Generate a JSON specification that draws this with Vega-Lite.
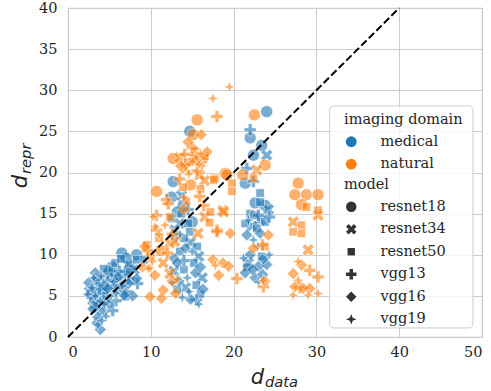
{
  "$schema": "https://vega.github.io/schema/vega-lite/v6.json",
  "width": 414,
  "height": 329,
  "autosize": {"type": "none"},
  "padding": {"left": 68, "top": 8, "right": 9, "bottom": 54},
  "background": "white",
  "datasets": {
    "pts": [
      {"x":6.5,"y":10.2,"domain":"medical","model":"resnet18"},{"x":8.3,"y":10.0,"domain":"medical","model":"resnet18"},{"x":4.9,"y":7.7,"domain":"medical","model":"resnet18"},{"x":5.3,"y":8.5,"domain":"medical","model":"resnet18"},{"x":3.7,"y":7.0,"domain":"medical","model":"resnet18"},{"x":7.5,"y":8.4,"domain":"medical","model":"resnet18"},{"x":4.2,"y":5.2,"domain":"medical","model":"resnet18"},{"x":6.0,"y":6.5,"domain":"medical","model":"resnet18"},{"x":5.0,"y":8.0,"domain":"medical","model":"resnet18"},{"x":7.0,"y":9.6,"domain":"medical","model":"resnet18"},
      {"x":7.3,"y":8.8,"domain":"medical","model":"resnet34"},{"x":3.5,"y":6.8,"domain":"medical","model":"resnet34"},{"x":4.5,"y":5.5,"domain":"medical","model":"resnet34"},{"x":5.6,"y":7.2,"domain":"medical","model":"resnet34"},{"x":3.0,"y":4.5,"domain":"medical","model":"resnet34"},{"x":6.4,"y":5.8,"domain":"medical","model":"resnet34"},{"x":8.0,"y":8.2,"domain":"medical","model":"resnet34"},{"x":4.0,"y":3.8,"domain":"medical","model":"resnet34"},{"x":6.8,"y":7.5,"domain":"medical","model":"resnet34"},{"x":2.6,"y":5.5,"domain":"medical","model":"resnet34"},
      {"x":5.7,"y":9.0,"domain":"medical","model":"resnet50"},{"x":8.3,"y":9.4,"domain":"medical","model":"resnet50"},{"x":6.9,"y":4.9,"domain":"medical","model":"resnet50"},{"x":3.8,"y":6.2,"domain":"medical","model":"resnet50"},{"x":4.6,"y":4.6,"domain":"medical","model":"resnet50"},{"x":5.5,"y":6.0,"domain":"medical","model":"resnet50"},{"x":7.6,"y":6.9,"domain":"medical","model":"resnet50"},{"x":3.2,"y":5.2,"domain":"medical","model":"resnet50"},{"x":9.2,"y":9.4,"domain":"medical","model":"resnet50"},{"x":4.3,"y":8.3,"domain":"medical","model":"resnet50"},{"x":6.4,"y":9.5,"domain":"medical","model":"resnet50"},{"x":7.2,"y":7.9,"domain":"medical","model":"resnet50"},
      {"x":7.0,"y":5.5,"domain":"medical","model":"vgg13"},{"x":4.8,"y":6.8,"domain":"medical","model":"vgg13"},{"x":3.3,"y":3.6,"domain":"medical","model":"vgg13"},{"x":5.8,"y":4.4,"domain":"medical","model":"vgg13"},{"x":8.4,"y":6.5,"domain":"medical","model":"vgg13"},{"x":6.2,"y":8.0,"domain":"medical","model":"vgg13"},{"x":3.8,"y":5.8,"domain":"medical","model":"vgg13"},{"x":5.4,"y":3.2,"domain":"medical","model":"vgg13"},
      {"x":8.3,"y":7.1,"domain":"medical","model":"vgg16"},{"x":7.3,"y":6.5,"domain":"medical","model":"vgg16"},{"x":3.3,"y":7.8,"domain":"medical","model":"vgg16"},{"x":3.5,"y":1.7,"domain":"medical","model":"vgg16"},{"x":3.9,"y":0.9,"domain":"medical","model":"vgg16"},{"x":4.2,"y":3.0,"domain":"medical","model":"vgg16"},{"x":5.0,"y":4.0,"domain":"medical","model":"vgg16"},{"x":6.0,"y":7.3,"domain":"medical","model":"vgg16"},{"x":2.8,"y":5.6,"domain":"medical","model":"vgg16"},{"x":3.6,"y":2.4,"domain":"medical","model":"vgg16"},{"x":4.4,"y":6.2,"domain":"medical","model":"vgg16"},{"x":7.8,"y":5.0,"domain":"medical","model":"vgg16"},{"x":3.0,"y":3.4,"domain":"medical","model":"vgg16"},{"x":4.8,"y":5.9,"domain":"medical","model":"vgg16"},{"x":6.8,"y":5.1,"domain":"medical","model":"vgg16"},{"x":2.5,"y":6.6,"domain":"medical","model":"vgg16"},{"x":3.4,"y":4.2,"domain":"medical","model":"vgg16"},
      {"x":3.1,"y":7.2,"domain":"medical","model":"vgg19"},{"x":2.9,"y":6.0,"domain":"medical","model":"vgg19"},{"x":3.6,"y":1.5,"domain":"medical","model":"vgg19"},{"x":4.6,"y":2.5,"domain":"medical","model":"vgg19"},{"x":5.2,"y":5.0,"domain":"medical","model":"vgg19"},{"x":3.9,"y":4.4,"domain":"medical","model":"vgg19"},{"x":2.7,"y":4.7,"domain":"medical","model":"vgg19"},{"x":4.0,"y":7.4,"domain":"medical","model":"vgg19"},{"x":5.8,"y":5.3,"domain":"medical","model":"vgg19"},{"x":6.6,"y":6.2,"domain":"medical","model":"vgg19"},{"x":3.3,"y":5.0,"domain":"medical","model":"vgg19"},{"x":4.4,"y":4.0,"domain":"medical","model":"vgg19"},{"x":2.4,"y":5.2,"domain":"medical","model":"vgg19"},{"x":5.5,"y":6.7,"domain":"medical","model":"vgg19"},{"x":4.1,"y":2.0,"domain":"medical","model":"vgg19"},

      {"x":14.7,"y":25.0,"domain":"medical","model":"resnet18"},{"x":12.7,"y":18.9,"domain":"medical","model":"resnet18"},{"x":12.5,"y":17.0,"domain":"medical","model":"resnet18"},{"x":13.9,"y":16.0,"domain":"medical","model":"resnet18"},{"x":13.2,"y":15.2,"domain":"medical","model":"resnet18"},{"x":15.0,"y":14.0,"domain":"medical","model":"resnet18"},
      {"x":13.5,"y":13.8,"domain":"medical","model":"resnet34"},{"x":14.8,"y":11.5,"domain":"medical","model":"resnet34"},{"x":15.8,"y":9.8,"domain":"medical","model":"resnet34"},{"x":12.8,"y":8.0,"domain":"medical","model":"resnet34"},{"x":14.2,"y":6.0,"domain":"medical","model":"resnet34"},{"x":16.2,"y":7.2,"domain":"medical","model":"resnet34"},{"x":13.7,"y":17.2,"domain":"medical","model":"resnet34"},{"x":12.9,"y":13.0,"domain":"medical","model":"resnet34"},
      {"x":12.5,"y":14.4,"domain":"medical","model":"resnet50"},{"x":13.7,"y":15.0,"domain":"medical","model":"resnet50"},{"x":14.5,"y":13.8,"domain":"medical","model":"resnet50"},{"x":14.7,"y":12.8,"domain":"medical","model":"resnet50"},{"x":13.5,"y":10.4,"domain":"medical","model":"resnet50"},{"x":15.2,"y":9.0,"domain":"medical","model":"resnet50"},{"x":14.0,"y":8.2,"domain":"medical","model":"resnet50"},{"x":16.0,"y":5.2,"domain":"medical","model":"resnet50"},{"x":13.2,"y":5.8,"domain":"medical","model":"resnet50"},{"x":15.5,"y":6.3,"domain":"medical","model":"resnet50"},{"x":14.0,"y":12.0,"domain":"medical","model":"resnet50"},{"x":15.6,"y":11.0,"domain":"medical","model":"resnet50"},
      {"x":14.5,"y":15.5,"domain":"medical","model":"vgg13"},{"x":13.0,"y":12.2,"domain":"medical","model":"vgg13"},{"x":15.5,"y":4.5,"domain":"medical","model":"vgg13"},{"x":14.0,"y":9.3,"domain":"medical","model":"vgg13"},
      {"x":14.2,"y":10.8,"domain":"medical","model":"vgg16"},{"x":15.4,"y":7.8,"domain":"medical","model":"vgg16"},{"x":13.4,"y":6.8,"domain":"medical","model":"vgg16"},{"x":16.3,"y":5.8,"domain":"medical","model":"vgg16"},{"x":14.8,"y":4.6,"domain":"medical","model":"vgg16"},{"x":12.8,"y":9.6,"domain":"medical","model":"vgg16"},{"x":13.2,"y":9.0,"domain":"medical","model":"vgg16"},{"x":16.0,"y":8.5,"domain":"medical","model":"vgg16"},
      {"x":15.0,"y":10.4,"domain":"medical","model":"vgg19"},{"x":13.8,"y":4.8,"domain":"medical","model":"vgg19"},{"x":15.8,"y":4.0,"domain":"medical","model":"vgg19"},{"x":14.4,"y":7.2,"domain":"medical","model":"vgg19"},{"x":12.6,"y":6.6,"domain":"medical","model":"vgg19"},{"x":14.6,"y":5.5,"domain":"medical","model":"vgg19"},{"x":13.5,"y":12.5,"domain":"medical","model":"vgg19"},

      {"x":24.0,"y":27.4,"domain":"medical","model":"resnet18"},{"x":22.0,"y":24.2,"domain":"medical","model":"resnet18"},{"x":23.4,"y":23.3,"domain":"medical","model":"resnet18"},{"x":22.4,"y":22.1,"domain":"medical","model":"resnet18"},{"x":21.4,"y":18.7,"domain":"medical","model":"resnet18"},{"x":23.8,"y":16.0,"domain":"medical","model":"resnet18"},{"x":22.6,"y":16.3,"domain":"medical","model":"resnet18"},
      {"x":24.0,"y":22.1,"domain":"medical","model":"resnet34"},{"x":23.2,"y":14.2,"domain":"medical","model":"resnet34"},{"x":22.2,"y":13.5,"domain":"medical","model":"resnet34"},{"x":24.2,"y":15.5,"domain":"medical","model":"resnet34"},{"x":21.8,"y":9.0,"domain":"medical","model":"resnet34"},
      {"x":23.2,"y":17.5,"domain":"medical","model":"resnet50"},{"x":23.2,"y":16.4,"domain":"medical","model":"resnet50"},{"x":22.0,"y":15.0,"domain":"medical","model":"resnet50"},{"x":23.8,"y":14.0,"domain":"medical","model":"resnet50"},{"x":21.4,"y":13.8,"domain":"medical","model":"resnet50"},{"x":22.8,"y":13.2,"domain":"medical","model":"resnet50"},{"x":23.4,"y":9.8,"domain":"medical","model":"resnet50"},{"x":21.6,"y":8.5,"domain":"medical","model":"resnet50"},{"x":22.5,"y":14.8,"domain":"medical","model":"resnet50"},
      {"x":22.0,"y":25.2,"domain":"medical","model":"vgg13"},{"x":21.6,"y":20.5,"domain":"medical","model":"vgg13"},{"x":22.4,"y":18.9,"domain":"medical","model":"vgg13"},{"x":23.0,"y":14.8,"domain":"medical","model":"vgg13"},{"x":24.3,"y":14.6,"domain":"medical","model":"vgg13"},
      {"x":21.6,"y":12.4,"domain":"medical","model":"vgg16"},{"x":23.2,"y":12.6,"domain":"medical","model":"vgg16"},{"x":22.0,"y":10.0,"domain":"medical","model":"vgg16"},{"x":23.0,"y":8.6,"domain":"medical","model":"vgg16"},{"x":21.4,"y":7.8,"domain":"medical","model":"vgg16"},{"x":24.0,"y":8.8,"domain":"medical","model":"vgg16"},{"x":22.6,"y":7.2,"domain":"medical","model":"vgg16"},{"x":23.6,"y":9.5,"domain":"medical","model":"vgg16"},{"x":22.3,"y":8.2,"domain":"medical","model":"vgg16"},{"x":23.5,"y":7.6,"domain":"medical","model":"vgg16"},
      {"x":22.4,"y":11.8,"domain":"medical","model":"vgg19"},{"x":21.2,"y":9.6,"domain":"medical","model":"vgg19"},{"x":24.3,"y":10.0,"domain":"medical","model":"vgg19"},{"x":22.9,"y":11.0,"domain":"medical","model":"vgg19"},{"x":23.0,"y":6.7,"domain":"medical","model":"vgg19"},{"x":21.8,"y":14.2,"domain":"medical","model":"vgg19"},

      {"x":10.7,"y":17.7,"domain":"natural","model":"resnet18"},{"x":11.2,"y":10.5,"domain":"natural","model":"resnet18"},
      {"x":12.3,"y":11.4,"domain":"natural","model":"resnet34"},{"x":12.9,"y":11.6,"domain":"natural","model":"resnet34"},{"x":12.3,"y":7.7,"domain":"natural","model":"resnet34"},{"x":11.5,"y":9.0,"domain":"natural","model":"resnet34"},
      {"x":12.3,"y":14.6,"domain":"natural","model":"resnet50"},{"x":9.5,"y":11.2,"domain":"natural","model":"resnet50"},{"x":11.0,"y":12.0,"domain":"natural","model":"resnet50"},{"x":10.0,"y":9.8,"domain":"natural","model":"resnet50"},
      {"x":11.9,"y":16.7,"domain":"natural","model":"vgg13"},{"x":12.1,"y":16.2,"domain":"natural","model":"vgg13"},{"x":10.7,"y":14.8,"domain":"natural","model":"vgg13"},{"x":10.7,"y":13.0,"domain":"natural","model":"vgg13"},{"x":12.0,"y":10.2,"domain":"natural","model":"vgg13"},{"x":9.6,"y":10.5,"domain":"natural","model":"vgg13"},{"x":12.6,"y":12.5,"domain":"natural","model":"vgg13"},
      {"x":9.3,"y":11.0,"domain":"natural","model":"vgg16"},{"x":9.9,"y":4.9,"domain":"natural","model":"vgg16"},{"x":11.5,"y":5.7,"domain":"natural","model":"vgg16"},{"x":12.6,"y":6.8,"domain":"natural","model":"vgg16"},{"x":10.5,"y":7.5,"domain":"natural","model":"vgg16"},{"x":11.3,"y":4.7,"domain":"natural","model":"vgg16"},{"x":13.0,"y":5.3,"domain":"natural","model":"vgg16"},{"x":9.0,"y":8.5,"domain":"natural","model":"vgg16"},
      {"x":10.3,"y":14.6,"domain":"natural","model":"vgg19"},{"x":10.5,"y":13.4,"domain":"natural","model":"vgg19"},{"x":11.7,"y":13.6,"domain":"natural","model":"vgg19"},{"x":9.9,"y":8.4,"domain":"natural","model":"vgg19"},{"x":9.7,"y":8.3,"domain":"natural","model":"vgg19"},{"x":11.0,"y":12.5,"domain":"natural","model":"vgg19"},{"x":10.2,"y":9.2,"domain":"natural","model":"vgg19"},{"x":13.2,"y":7.0,"domain":"natural","model":"vgg19"},

      {"x":15.6,"y":26.4,"domain":"natural","model":"resnet18"},{"x":15.1,"y":24.6,"domain":"natural","model":"resnet18"},{"x":12.7,"y":21.7,"domain":"natural","model":"resnet18"},{"x":16.3,"y":21.7,"domain":"natural","model":"resnet18"},{"x":19.0,"y":19.9,"domain":"natural","model":"resnet18"},{"x":14.8,"y":18.5,"domain":"natural","model":"resnet18"},
      {"x":13.5,"y":21.8,"domain":"natural","model":"resnet34"},{"x":15.9,"y":19.7,"domain":"natural","model":"resnet34"},{"x":18.7,"y":15.4,"domain":"natural","model":"resnet34"},{"x":16.5,"y":14.6,"domain":"natural","model":"resnet34"},{"x":15.7,"y":12.6,"domain":"natural","model":"resnet34"},{"x":14.2,"y":20.5,"domain":"natural","model":"resnet34"},{"x":16.5,"y":19.0,"domain":"natural","model":"resnet34"},{"x":15.3,"y":22.5,"domain":"natural","model":"resnet34"},
      {"x":17.75,"y":19.3,"domain":"natural","model":"resnet50"},{"x":13.9,"y":18.2,"domain":"natural","model":"resnet50"},{"x":17.1,"y":13.9,"domain":"natural","model":"resnet50"},{"x":14.3,"y":16.5,"domain":"natural","model":"resnet50"},{"x":15.2,"y":22.0,"domain":"natural","model":"resnet50"},{"x":16.0,"y":18.0,"domain":"natural","model":"resnet50"},{"x":14.8,"y":21.3,"domain":"natural","model":"resnet50"},{"x":17.2,"y":15.2,"domain":"natural","model":"resnet50"},{"x":16.5,"y":22.0,"domain":"natural","model":"resnet50"},
      {"x":18.0,"y":26.8,"domain":"natural","model":"vgg13"},{"x":13.5,"y":19.2,"domain":"natural","model":"vgg13"},{"x":15.9,"y":17.1,"domain":"natural","model":"vgg13"},{"x":18.0,"y":13.0,"domain":"natural","model":"vgg13"},{"x":15.0,"y":23.0,"domain":"natural","model":"vgg13"},{"x":15.6,"y":20.2,"domain":"natural","model":"vgg13"},{"x":14.1,"y":22.2,"domain":"natural","model":"vgg13"},{"x":16.4,"y":16.0,"domain":"natural","model":"vgg13"},{"x":14.2,"y":21.0,"domain":"natural","model":"vgg13"},
      {"x":16.1,"y":24.6,"domain":"natural","model":"vgg16"},{"x":14.5,"y":23.7,"domain":"natural","model":"vgg16"},{"x":15.5,"y":21.5,"domain":"natural","model":"vgg16"},{"x":19.6,"y":12.6,"domain":"natural","model":"vgg16"},{"x":14.0,"y":15.5,"domain":"natural","model":"vgg16"},{"x":16.8,"y":22.5,"domain":"natural","model":"vgg16"},{"x":13.6,"y":20.8,"domain":"natural","model":"vgg16"},
      {"x":19.5,"y":30.4,"domain":"natural","model":"vgg19"},{"x":17.5,"y":29.0,"domain":"natural","model":"vgg19"},{"x":16.0,"y":22.3,"domain":"natural","model":"vgg19"},{"x":15.3,"y":22.9,"domain":"natural","model":"vgg19"},{"x":14.6,"y":19.8,"domain":"natural","model":"vgg19"},{"x":16.2,"y":20.8,"domain":"natural","model":"vgg19"},{"x":14.0,"y":17.0,"domain":"natural","model":"vgg19"},{"x":15.0,"y":21.3,"domain":"natural","model":"vgg19"},{"x":15.8,"y":21.0,"domain":"natural","model":"vgg19"},

      {"x":22.5,"y":27.0,"domain":"natural","model":"resnet18"},{"x":23.8,"y":20.9,"domain":"natural","model":"resnet18"},{"x":21.1,"y":19.7,"domain":"natural","model":"resnet18"},{"x":19.2,"y":19.7,"domain":"natural","model":"resnet18"},
      {"x":22.8,"y":20.3,"domain":"natural","model":"resnet34"},{"x":18.8,"y":15.2,"domain":"natural","model":"resnet34"},
      {"x":17.6,"y":19.1,"domain":"natural","model":"resnet50"},{"x":19.8,"y":18.7,"domain":"natural","model":"resnet50"},{"x":19.8,"y":17.7,"domain":"natural","model":"resnet50"},{"x":22.4,"y":19.3,"domain":"natural","model":"resnet50"},{"x":23.8,"y":11.0,"domain":"natural","model":"resnet50"},
      {"x":18.0,"y":12.8,"domain":"natural","model":"vgg13"},{"x":20.4,"y":7.1,"domain":"natural","model":"vgg13"},{"x":23.6,"y":6.1,"domain":"natural","model":"vgg13"},{"x":23.5,"y":11.2,"domain":"natural","model":"vgg13"},
      {"x":24.2,"y":12.4,"domain":"natural","model":"vgg16"},{"x":22.4,"y":10.8,"domain":"natural","model":"vgg16"},{"x":17.5,"y":9.4,"domain":"natural","model":"vgg16"},{"x":18.2,"y":7.5,"domain":"natural","model":"vgg16"},{"x":18.7,"y":9.0,"domain":"natural","model":"vgg16"},{"x":19.4,"y":8.6,"domain":"natural","model":"vgg16"},{"x":23.8,"y":6.8,"domain":"natural","model":"vgg16"},
      {"x":23.6,"y":6.9,"domain":"natural","model":"vgg19"},{"x":17.8,"y":8.7,"domain":"natural","model":"vgg19"},

      {"x":27.8,"y":18.7,"domain":"natural","model":"resnet18"},{"x":27.4,"y":17.3,"domain":"natural","model":"resnet18"},{"x":28.8,"y":17.3,"domain":"natural","model":"resnet18"},{"x":30.2,"y":17.3,"domain":"natural","model":"resnet18"},{"x":28.2,"y":16.1,"domain":"natural","model":"resnet18"},
      {"x":30.2,"y":14.8,"domain":"natural","model":"resnet34"},{"x":27.2,"y":14.0,"domain":"natural","model":"resnet34"},{"x":29.0,"y":10.6,"domain":"natural","model":"resnet34"},
      {"x":28.8,"y":15.8,"domain":"natural","model":"resnet50"},{"x":30.2,"y":15.4,"domain":"natural","model":"resnet50"},{"x":28.2,"y":13.6,"domain":"natural","model":"resnet50"},{"x":27.2,"y":12.8,"domain":"natural","model":"resnet50"},{"x":28.2,"y":12.6,"domain":"natural","model":"resnet50"},
      {"x":29.2,"y":8.1,"domain":"natural","model":"vgg13"},{"x":30.2,"y":7.3,"domain":"natural","model":"vgg13"},{"x":28.0,"y":6.0,"domain":"natural","model":"vgg13"},
      {"x":28.2,"y":8.75,"domain":"natural","model":"vgg16"},{"x":27.2,"y":7.7,"domain":"natural","model":"vgg16"},{"x":27.4,"y":6.1,"domain":"natural","model":"vgg16"},{"x":28.4,"y":5.9,"domain":"natural","model":"vgg16"},{"x":29.2,"y":5.9,"domain":"natural","model":"vgg16"},
      {"x":27.8,"y":6.9,"domain":"natural","model":"vgg19"},{"x":27.2,"y":5.1,"domain":"natural","model":"vgg19"},{"x":29.0,"y":5.1,"domain":"natural","model":"vgg19"},{"x":30.2,"y":5.3,"domain":"natural","model":"vgg19"},{"x":27.8,"y":9.2,"domain":"natural","model":"vgg19"}
    ],
    "diag": [{"x": 0, "y": 0}, {"x": 40, "y": 40}],
    "one": [{"k": 1}]
  },
  "data": {"name": "pts"},
  "layer": [
    {
      "mark": {"type": "point", "filled": true, "opacity": 0.6, "stroke": "white", "strokeWidth": 0.8, "size": 150},
      "encoding": {
        "x": {"field": "x", "type": "quantitative", "scale": {"domain": [0, 50], "nice": false},
              "axis": {"title": null, "values": [0, 10, 20, 30, 40, 50], "labelPadding": 8}},
        "y": {"field": "y", "type": "quantitative", "scale": {"domain": [0, 40], "nice": false},
              "axis": {"title": null, "values": [0, 5, 10, 15, 20, 25, 30, 35, 40], "labelPadding": 11}},
        "color": {"field": "domain", "type": "nominal",
                  "scale": {"domain": ["medical", "natural"], "range": ["#1f77b4", "#ff7f0e"]},
                  "legend": {"title": "imaging domain", "orient": "none", "legendX": 276, "legendY": 105,
                             "symbolType": "circle", "symbolSize": 120, "labelOffset": 22, "rowPadding": 7.5, "titlePadding": 7,
                             "symbolOpacity": 1, "symbolStrokeWidth": 0,
                             "encode": {"symbols": {"update": {"opacity": {"value": 1}, "strokeWidth": {"value": 0}}}}}},
        "shape": {"field": "model", "type": "nominal",
                  "scale": {"domain": ["resnet18", "resnet34", "resnet50", "vgg13", "vgg16", "vgg19"],
                            "range": ["circle",
                                      "M-0.5,-1L0,-0.5L0.5,-1L1,-0.5L0.5,0L1,0.5L0.5,1L0,0.5L-0.5,1L-1,0.5L-0.5,0L-1,-0.5Z",
                                      "M-0.707,-0.707L0.707,-0.707L0.707,0.707L-0.707,0.707Z",
                                      "M-0.333,-1L0.333,-1L0.333,-0.333L1,-0.333L1,0.333L0.333,0.333L0.333,1L-0.333,1L-0.333,0.333L-1,0.333L-1,-0.333L-0.333,-0.333Z",
                                      "M0,-1L1,0L0,1L-1,0Z",
                                      "M0,-1L0.27,-0.27L1,0L0.27,0.27L0,1L-0.27,0.27L-1,0L-0.27,-0.27Z"]},
                  "legend": {"title": "model", "orient": "none", "legendX": 276, "legendY": 170,
                             "symbolSize": 110, "labelOffset": 22, "rowPadding": 7.5, "titlePadding": 7,
                             "symbolOpacity": 1, "symbolFillColor": "#333333", "symbolStrokeWidth": 0,
                             "encode": {"symbols": {"update": {"opacity": {"value": 1}, "fill": {"value": "#333333"}, "strokeWidth": {"value": 0}}}}}}
      }
    },
    {
      "data": {"name": "diag"},
      "mark": {"type": "line", "color": "black", "strokeWidth": 2, "strokeDash": [7.4, 3.2]},
      "encoding": {
        "x": {"field": "x", "type": "quantitative"},
        "y": {"field": "y", "type": "quantitative"}
      }
    },
    {
      "data": {"name": "one"},
      "mark": {"type": "rect", "fill": "white", "fillOpacity": 0.8, "stroke": "#cccccc", "strokeWidth": 1, "cornerRadius": 4},
      "encoding": {
        "x": {"datum": 31.6, "type": "quantitative"},
        "x2": {"datum": 48.9},
        "y": {"datum": 28.1, "type": "quantitative"},
        "y2": {"datum": 1.1}
      }
    },
    {
      "data": {"name": "one"},
      "mark": {"type": "text", "text": "d", "font": "DejaVu Sans", "fontStyle": "italic", "fontSize": 21, "align": "right", "baseline": "alphabetic", "dx": -11, "dy": 46.5, "color": "#262626"},
      "encoding": {"x": {"datum": 25, "type": "quantitative"}, "y": {"datum": 0, "type": "quantitative"}}
    },
    {
      "data": {"name": "one"},
      "mark": {"type": "text", "text": "data", "font": "DejaVu Sans", "fontStyle": "italic", "fontSize": 14.7, "align": "left", "baseline": "alphabetic", "dx": -10, "dy": 50, "color": "#262626"},
      "encoding": {"x": {"datum": 25, "type": "quantitative"}, "y": {"datum": 0, "type": "quantitative"}}
    },
    {
      "data": {"name": "one"},
      "mark": {"type": "text", "text": "d", "font": "DejaVu Sans", "fontStyle": "italic", "fontSize": 21, "angle": 270, "align": "right", "baseline": "alphabetic", "dx": -2.5, "dy": -41, "color": "#262626"},
      "encoding": {"x": {"datum": 0, "type": "quantitative"}, "y": {"datum": 20, "type": "quantitative"}}
    },
    {
      "data": {"name": "one"},
      "mark": {"type": "text", "text": "repr", "font": "DejaVu Sans", "fontStyle": "italic", "fontSize": 14.7, "angle": 270, "align": "left", "baseline": "alphabetic", "dx": -1.5, "dy": -37, "color": "#262626"},
      "encoding": {"x": {"datum": 0, "type": "quantitative"}, "y": {"datum": 20, "type": "quantitative"}}
    }
  ],
  "config": {
    "view": {"stroke": "#cccccc", "strokeWidth": 1.2},
    "axis": {"grid": true, "gridColor": "#cccccc", "gridWidth": 1, "domain": false, "ticks": false,
             "labelFont": "DejaVu Serif", "labelFontSize": 14.5, "labelColor": "#262626"},
    "legend": {"labelFont": "DejaVu Serif", "labelFontSize": 14.5, "titleFont": "DejaVu Serif", "titleFontSize": 14.5,
               "titleFontWeight": "normal", "labelColor": "#262626", "titleColor": "#262626", "padding": 0}
  }
}
